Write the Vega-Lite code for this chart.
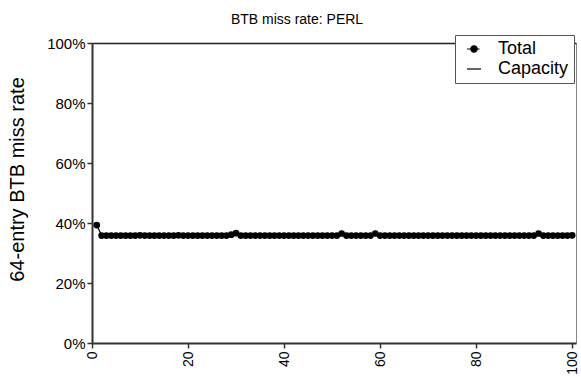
{
  "$schema": "https://vega.github.io/schema/vega-lite/v6.json",
  "width": 484,
  "height": 300,
  "autosize": "none",
  "padding": {"left": 92, "top": 43, "right": 5, "bottom": 34},
  "background": "white",
  "title": {"text": "BTB miss rate: PERL", "font": "Liberation Sans", "fontSize": 14, "fontWeight": "normal", "color": "black", "anchor": "middle", "dx": -37, "offset": 8},
  "config": {
    "view": {"stroke": "#888", "strokeWidth": 1},
    "axis": {"labelFont": "Liberation Sans", "titleFont": "Liberation Sans", "labelColor": "black", "titleColor": "black", "grid": false, "domainColor": "#333", "domainWidth": 2, "tickColor": "#333", "tickWidth": 1.5, "tickSize": 5, "labelFontSize": 15},
    "legend": {"labelFont": "Liberation Sans", "labelFontSize": 18, "labelColor": "black"}
  },
  "resolve": {"axis": {"x": "independent"}},
  "data": {"values": [
    {"x":1,"y":0.393,"series":"Total"},{"x":2,"y":0.358,"series":"Total"},{"x":3,"y":0.358,"series":"Total"},{"x":4,"y":0.358,"series":"Total"},{"x":5,"y":0.358,"series":"Total"},
    {"x":6,"y":0.358,"series":"Total"},{"x":7,"y":0.358,"series":"Total"},{"x":8,"y":0.358,"series":"Total"},{"x":9,"y":0.358,"series":"Total"},{"x":10,"y":0.359,"series":"Total"},
    {"x":11,"y":0.358,"series":"Total"},{"x":12,"y":0.358,"series":"Total"},{"x":13,"y":0.358,"series":"Total"},{"x":14,"y":0.358,"series":"Total"},{"x":15,"y":0.358,"series":"Total"},
    {"x":16,"y":0.358,"series":"Total"},{"x":17,"y":0.358,"series":"Total"},{"x":18,"y":0.359,"series":"Total"},{"x":19,"y":0.358,"series":"Total"},{"x":20,"y":0.358,"series":"Total"},
    {"x":21,"y":0.358,"series":"Total"},{"x":22,"y":0.358,"series":"Total"},{"x":23,"y":0.358,"series":"Total"},{"x":24,"y":0.358,"series":"Total"},{"x":25,"y":0.358,"series":"Total"},
    {"x":26,"y":0.358,"series":"Total"},{"x":27,"y":0.358,"series":"Total"},{"x":28,"y":0.358,"series":"Total"},{"x":29,"y":0.361,"series":"Total"},{"x":30,"y":0.366,"series":"Total"},
    {"x":31,"y":0.358,"series":"Total"},{"x":32,"y":0.358,"series":"Total"},{"x":33,"y":0.358,"series":"Total"},{"x":34,"y":0.358,"series":"Total"},{"x":35,"y":0.358,"series":"Total"},
    {"x":36,"y":0.358,"series":"Total"},{"x":37,"y":0.358,"series":"Total"},{"x":38,"y":0.358,"series":"Total"},{"x":39,"y":0.358,"series":"Total"},{"x":40,"y":0.358,"series":"Total"},
    {"x":41,"y":0.358,"series":"Total"},{"x":42,"y":0.358,"series":"Total"},{"x":43,"y":0.358,"series":"Total"},{"x":44,"y":0.358,"series":"Total"},{"x":45,"y":0.358,"series":"Total"},
    {"x":46,"y":0.358,"series":"Total"},{"x":47,"y":0.358,"series":"Total"},{"x":48,"y":0.358,"series":"Total"},{"x":49,"y":0.358,"series":"Total"},{"x":50,"y":0.358,"series":"Total"},
    {"x":51,"y":0.358,"series":"Total"},{"x":52,"y":0.365,"series":"Total"},{"x":53,"y":0.358,"series":"Total"},{"x":54,"y":0.358,"series":"Total"},{"x":55,"y":0.358,"series":"Total"},
    {"x":56,"y":0.358,"series":"Total"},{"x":57,"y":0.358,"series":"Total"},{"x":58,"y":0.358,"series":"Total"},{"x":59,"y":0.365,"series":"Total"},{"x":60,"y":0.358,"series":"Total"},
    {"x":61,"y":0.358,"series":"Total"},{"x":62,"y":0.358,"series":"Total"},{"x":63,"y":0.358,"series":"Total"},{"x":64,"y":0.358,"series":"Total"},{"x":65,"y":0.358,"series":"Total"},
    {"x":66,"y":0.358,"series":"Total"},{"x":67,"y":0.358,"series":"Total"},{"x":68,"y":0.358,"series":"Total"},{"x":69,"y":0.358,"series":"Total"},{"x":70,"y":0.358,"series":"Total"},
    {"x":71,"y":0.358,"series":"Total"},{"x":72,"y":0.358,"series":"Total"},{"x":73,"y":0.358,"series":"Total"},{"x":74,"y":0.358,"series":"Total"},{"x":75,"y":0.358,"series":"Total"},
    {"x":76,"y":0.358,"series":"Total"},{"x":77,"y":0.358,"series":"Total"},{"x":78,"y":0.358,"series":"Total"},{"x":79,"y":0.358,"series":"Total"},{"x":80,"y":0.358,"series":"Total"},
    {"x":81,"y":0.358,"series":"Total"},{"x":82,"y":0.358,"series":"Total"},{"x":83,"y":0.358,"series":"Total"},{"x":84,"y":0.358,"series":"Total"},{"x":85,"y":0.358,"series":"Total"},
    {"x":86,"y":0.358,"series":"Total"},{"x":87,"y":0.358,"series":"Total"},{"x":88,"y":0.358,"series":"Total"},{"x":89,"y":0.358,"series":"Total"},{"x":90,"y":0.358,"series":"Total"},
    {"x":91,"y":0.358,"series":"Total"},{"x":92,"y":0.358,"series":"Total"},{"x":93,"y":0.365,"series":"Total"},{"x":94,"y":0.358,"series":"Total"},{"x":95,"y":0.358,"series":"Total"},
    {"x":96,"y":0.358,"series":"Total"},{"x":97,"y":0.358,"series":"Total"},{"x":98,"y":0.358,"series":"Total"},{"x":99,"y":0.358,"series":"Total"},{"x":100,"y":0.359,"series":"Total"}
  ]},
  "encoding": {
    "y": {"field": "y", "type": "quantitative", "scale": {"domain": [0, 1], "nice": false},
      "axis": {"title": "64-entry BTB miss rate", "titleFontSize": 20, "titleFontWeight": "normal", "titlePadding": 19, "titleY": 136, "values": [0, 0.2, 0.4, 0.6, 0.8, 1], "format": ".0%", "labelPadding": 2}}
  },
  "layer": [
    {
      "mark": {"type": "line", "strokeWidth": 1.2},
      "encoding": {
        "x": {"field": "x", "type": "quantitative", "scale": {"domain": [0, 100.8], "nice": false, "zero": false},
          "axis": {"title": null, "values": [0, 20, 40, 60, 80, 100], "labelAngle": -90, "labelAlign": "right", "labelBaseline": "middle", "labelPadding": 3, "labelFontSize": 14, "format": "d"}},
        "color": {"field": "series", "type": "nominal",
          "scale": {"domain": ["Total", "Capacity"], "range": ["black", "black"]},
          "legend": {"title": null, "orient": "none", "legendX": 363, "legendY": -8,
            "fillColor": "white", "strokeColor": "#555", "padding": 5, "rowPadding": 2, "symbolOffset": 5,
            "symbolSize": 196, "symbolStrokeWidth": 1.2, "symbolFillColor": "black", "symbolStrokeColor": "black", "labelOffset": 15,
            "encode": {"symbols": {"update": {"shape": {"signal": "datum.value === 'Total' ? 'M-1,0H0.8M-0.45,0A0.45,0.45,0,1,1,0.45,0A0.45,0.45,0,1,1,-0.45,0Z' : 'M-1,0H1'"}}}}}
        }
      }
    },
    {
      "mark": {"type": "point", "filled": true, "shape": "circle", "size": 45, "color": "black", "opacity": 1},
      "encoding": {
        "x": {"field": "x", "type": "quantitative", "scale": {"domain": [0, 100.8], "nice": false, "zero": false},
          "axis": {"orient": "top", "title": null, "labels": false, "ticks": false, "domainColor": "#222", "domainWidth": 1.5}}
      }
    }
  ]
}
